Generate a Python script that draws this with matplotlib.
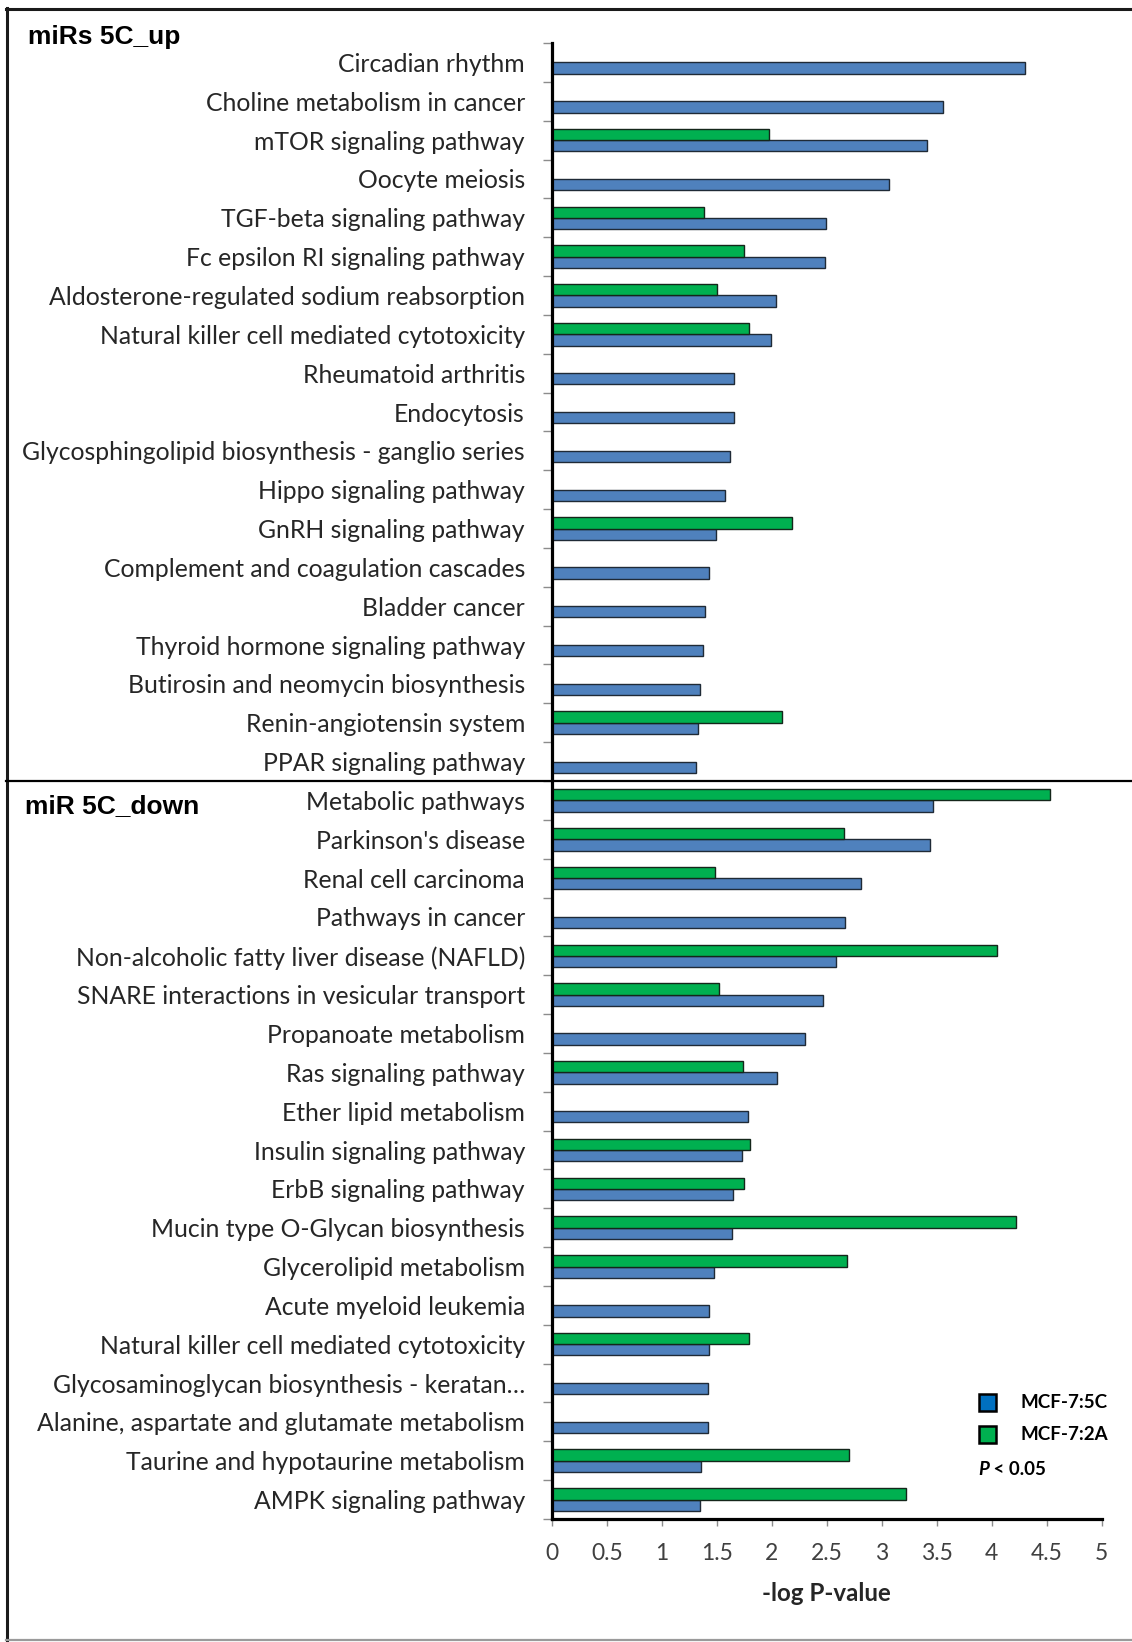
import numpy as np
import matplotlib
matplotlib.use("Agg")
import matplotlib.pyplot as plt
import matplotlib.transforms as mtransforms
from matplotlib.patches import Rectangle
from matplotlib.lines import Line2D

# ---- data -------------------------------------------------------------
up_pathways = [
    "Circadian rhythm",
    "Choline metabolism in cancer",
    "mTOR signaling pathway",
    "Oocyte meiosis",
    "TGF-beta signaling pathway",
    "Fc epsilon RI signaling pathway",
    "Aldosterone-regulated sodium reabsorption",
    "Natural killer cell mediated cytotoxicity",
    "Rheumatoid arthritis",
    "Endocytosis",
    "Glycosphingolipid biosynthesis - ganglio series",
    "Hippo signaling pathway",
    "GnRH signaling pathway",
    "Complement and coagulation cascades",
    "Bladder cancer",
    "Thyroid hormone signaling pathway",
    "Butirosin and neomycin biosynthesis",
    "Renin-angiotensin system",
    "PPAR signaling pathway",
]
up_5c = [4.30, 3.56, 3.41, 3.07, 2.49, 2.48, 2.04, 1.99, 1.66, 1.66,
         1.62, 1.57, 1.49, 1.43, 1.39, 1.37, 1.35, 1.33, 1.31]
up_2a = [None, None, 1.97, None, 1.38, 1.75, 1.50, 1.79, None, None,
         None, None, 2.18, None, None, None, None, 2.09, None]

down_pathways = [
    "Metabolic pathways",
    "Parkinson's disease",
    "Renal cell carcinoma",
    "Pathways in cancer",
    "Non-alcoholic fatty liver disease (NAFLD)",
    "SNARE interactions in vesicular transport",
    "Propanoate metabolism",
    "Ras signaling pathway",
    "Ether lipid metabolism",
    "Insulin signaling pathway",
    "ErbB signaling pathway",
    "Mucin type O-Glycan biosynthesis",
    "Glycerolipid metabolism",
    "Acute myeloid leukemia",
    "Natural killer cell mediated cytotoxicity",
    "Glycosaminoglycan biosynthesis - keratan\u2026",
    "Alanine, aspartate and glutamate metabolism",
    "Taurine and hypotaurine metabolism",
    "AMPK signaling pathway",
]
down_5c = [3.47, 3.44, 2.81, 2.67, 2.58, 2.47, 2.30, 2.05, 1.78, 1.73,
           1.65, 1.64, 1.47, 1.43, 1.43, 1.42, 1.42, 1.36, 1.35]
down_2a = [4.53, 2.66, 1.48, None, 4.05, 1.52, None, 1.74, None, 1.80,
           1.75, 4.22, 2.68, None, 1.79, None, None, 2.70, 3.22]

x_ticks = [0, 0.5, 1, 1.5, 2, 2.5, 3, 3.5, 4, 4.5, 5]
x_tick_labels = ["0", "0.5", "1", "1.5", "2", "2.5", "3", "3.5", "4", "4.5", "5"]

series_names = ["MCF-7:5C", "MCF-7:2A"]

# ---- style ------------------------------------------------------------
BLUE = "#4F81BD"
GREEN = "#00B050"
LEGEND_BLUE = "#0070C0"
TEXT = "#262626"
TICK_GREY = "#8C8C8C"
LABEL_FONT = "Lato"
TITLE_FONT = "Liberation Sans"

W, H = 1132, 1642
fig = plt.figure(figsize=(W / 100, H / 100), dpi=100)


def fx(px):
    return px / W


def fy(py):
    return 1 - py / H


# plot area
ax_left, ax_right, ax_top, ax_bottom = 552, 1101.5, 43, 1519
ax = fig.add_axes([fx(ax_left), fy(ax_bottom),
                   fx(ax_right - ax_left), (ax_bottom - ax_top) / H])

labels = up_pathways + down_pathways
val_5c = up_5c + down_5c
val_2a = up_2a + down_2a
n = len(labels)
pos = np.arange(n)

bar_h = 0.29
off = 0.145
ax.barh(pos + off, val_5c, height=bar_h, color=BLUE,
        edgecolor="#1F2A36", linewidth=1.0, zorder=3)
g_pos = [p for p, v in zip(pos, val_2a) if v is not None]
g_val = [v for v in val_2a if v is not None]
ax.barh(np.array(g_pos) - off, g_val, height=bar_h, color=GREEN,
        edgecolor="#14261A", linewidth=1.0, zorder=3)

ax.set_xlim(0, 5)
ax.set_ylim(n - 0.5, -0.5)

# category boundaries as major ticks, names on minor ticks at centres
ax.set_yticks(np.arange(-0.5, n, 1.0))
ax.set_yticklabels([])
ax.set_yticks(pos, minor=True)
ax.set_yticklabels(labels, minor=True, fontsize=17.8, family=LABEL_FONT,
                   color=TEXT)
ax.tick_params(axis="y", which="major", direction="out", length=6.5,
               width=1.0, color=TICK_GREY)
ax.tick_params(axis="y", which="minor", length=0, pad=19.5)

ax.set_xticks(x_ticks)
ax.set_xticklabels(x_tick_labels, fontsize=16.5, family=LABEL_FONT,
                   color="#404040")
ax.tick_params(axis="x", direction="out", length=5, width=1.0,
               color=TICK_GREY, pad=12)

for side in ("top", "right"):
    ax.spines[side].set_visible(False)
for side in ("left", "bottom"):
    ax.spines[side].set_linewidth(2.3)
    ax.spines[side].set_color("black")
    ax.spines[side].set_zorder(4)

fig.text(fx(826), fy(1593), "-log P-value", ha="center", va="center",
         fontsize=17.4, fontweight="bold", family=LABEL_FONT, color=TEXT)

# divider between the two groups of pathways
split = len(up_pathways) - 0.5
blend = mtransforms.blended_transform_factory(fig.transFigure, ax.transData)
fig.add_artist(Line2D([fx(6), 1.0], [split, split], transform=blend,
                      color="black", linewidth=1.6, zorder=5))

# outer frame
fig.add_artist(Line2D([fx(6.5), fx(6.5)], [fy(8), fy(1640)],
                      transform=fig.transFigure, color="#1A1A1A", linewidth=2.2))
fig.add_artist(Line2D([fx(5.5), 1.0], [fy(9), fy(9)],
                      transform=fig.transFigure, color="#1A1A1A", linewidth=2.2))
fig.add_artist(Line2D([fx(5.5), 1.0], [fy(1639.5), fy(1639.5)],
                      transform=fig.transFigure, color="#9A9A9A", linewidth=1.6))

# group titles
fig.text(fx(28), fy(37), "miRs 5C_up", ha="left", va="center", fontsize=19,
         fontweight="bold", family=TITLE_FONT, color="black")
fig.text(fx(25), fy(806), "miR 5C_down", ha="left", va="center",
         fontsize=19, fontweight="bold", family=TITLE_FONT, color="black")

# legend
for (y0, col, name) in [(1394, LEGEND_BLUE, series_names[0]),
                        (1426, GREEN, series_names[1])]:
    fig.add_artist(Rectangle((fx(979), fy(y0 + 16.5)), 16.5 / W, 16.5 / H,
                             transform=fig.transFigure, facecolor=col,
                             edgecolor="black", linewidth=1.8))
    fig.text(fx(1021), fy(y0 + 8.5), name, ha="left", va="center",
             fontsize=13.5, fontweight="bold", family=LABEL_FONT, color="black")

p_txt = fig.text(fx(978), fy(1469), "P", ha="left", va="center", fontsize=13.5,
                 fontweight="bold", fontstyle="italic", family=LABEL_FONT,
                 color="black")
renderer = fig.canvas.get_renderer()
bb = p_txt.get_window_extent(renderer)
fig.text(bb.x1 / W, fy(1469), " < 0.05", ha="left", va="center",
         fontsize=13.5, fontweight="bold", family=LABEL_FONT,
         color="black")

fig.savefig("out.png", dpi=100, facecolor="white")
